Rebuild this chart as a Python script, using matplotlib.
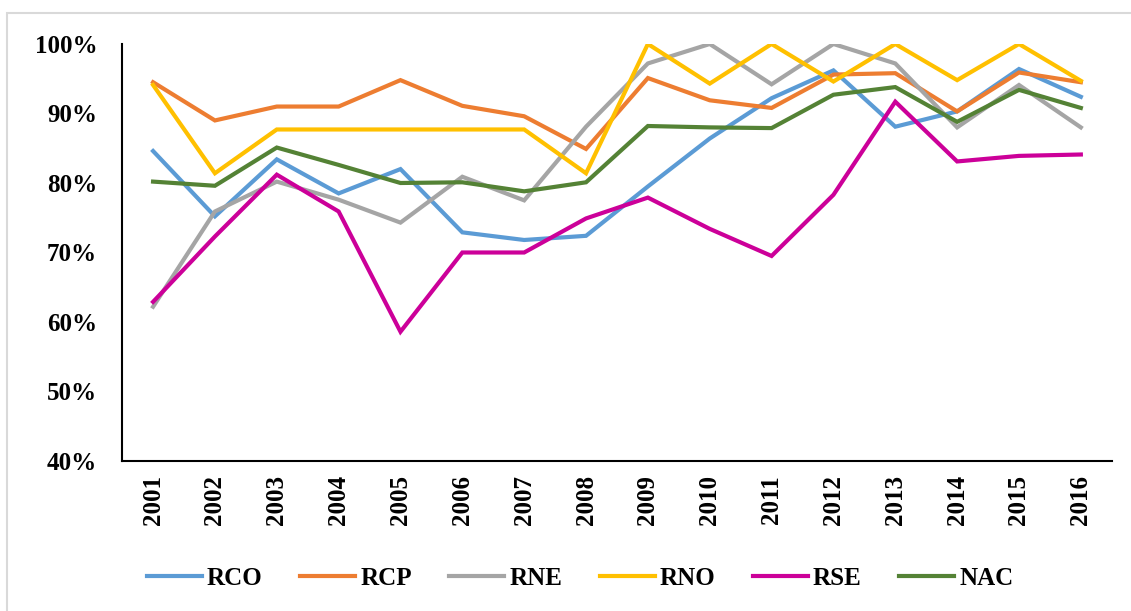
import matplotlib
matplotlib.use("Agg")
import matplotlib.pyplot as plt
from matplotlib.patches import Rectangle
from matplotlib.ticker import FuncFormatter

plt.rcParams["font.family"] = ["Liberation Serif", "DejaVu Serif"]
plt.rcParams["font.weight"] = "bold"

anos = [str(a) for a in range(2001, 2017)]

rco = [84.6, 75.2, 83.4, 78.5, 82.0, 72.9, 71.8, 72.4, 79.5, 86.4, 92.2, 96.2, 88.1, 90.3, 96.4, 92.4]
rcp = [94.5, 89.0, 91.0, 91.0, 94.8, 91.1, 89.6, 84.9, 95.1, 91.9, 90.8, 95.6, 95.8, 90.3, 95.9, 94.5]
rne = [62.2, 75.9, 80.2, 77.6, 74.3, 80.9, 77.5, 88.1, 97.2, 100.0, 94.2, 100.0, 97.2, 88.0, 94.1, 88.0]
rno = [94.1, 81.4, 87.7, 87.7, 87.7, 87.7, 87.7, 81.4, 100.0, 94.3, 100.0, 94.6, 100.0, 94.8, 100.0, 94.7]
rse = [62.9, 72.3, 81.2, 75.9, 58.6, 70.0, 70.0, 74.9, 77.9, 73.4, 69.5, 78.3, 91.7, 83.1, 83.9, 84.1]
nac = [80.2, 79.6, 85.1, 82.6, 80.0, 80.1, 78.8, 80.1, 88.2, 88.0, 87.9, 92.7, 93.8, 88.8, 93.4, 90.8]

series = [
    ("RCO", rco, "#5B9BD5"),
    ("RCP", rcp, "#ED7D31"),
    ("RNE", rne, "#A5A5A5"),
    ("RNO", rno, "#FFC000"),
    ("RSE", rse, "#CC0099"),
    ("NAC", nac, "#548235"),
]

fig = plt.figure(figsize=(11.31, 6.11), dpi=100)
ax = fig.add_axes([0.108, 0.2455, 0.875, 0.6825])

x = list(range(len(anos)))
for nome, valores, cor in series:
    ax.plot(x, valores, color=cor, linewidth=3, label=nome, solid_joinstyle="miter")

ax.set_xlim(-0.5, len(anos) - 0.5)
ax.set_ylim(40, 100)
ax.set_yticks(range(40, 101, 10))
ax.yaxis.set_major_formatter(FuncFormatter(lambda v, p: f"{v:.0f}%"))
ax.set_xticks(x)
ax.set_xticklabels(anos, rotation=90)

ax.tick_params(axis="y", length=0, pad=18, labelsize=18)
ax.tick_params(axis="x", length=0, pad=10, labelsize=18)
for lbl in ax.get_xticklabels() + ax.get_yticklabels():
    lbl.set_fontweight("bold")

for s in ["top", "right"]:
    ax.spines[s].set_visible(False)
for s in ["left", "bottom"]:
    ax.spines[s].set_color("black")
    ax.spines[s].set_linewidth(1.5)

leg = fig.legend(
    loc="center",
    bbox_to_anchor=(0.513, 0.054),
    ncol=6,
    frameon=False,
    prop={"family": "Liberation Serif", "weight": "bold", "size": 18},
    handlelength=2.2,
    handletextpad=0.2,
    columnspacing=1.5,
)
for h in leg.get_lines():
    h.set_linewidth(3)

# moldura cinza da captura
fig.patches.append(
    Rectangle((7 / 1131, -0.1), 1.2, 1.1 - 13 / 611, transform=fig.transFigure,
              fill=False, edgecolor="#D9D9D9", linewidth=1.5)
)

fig.savefig("out.png", dpi=100)
